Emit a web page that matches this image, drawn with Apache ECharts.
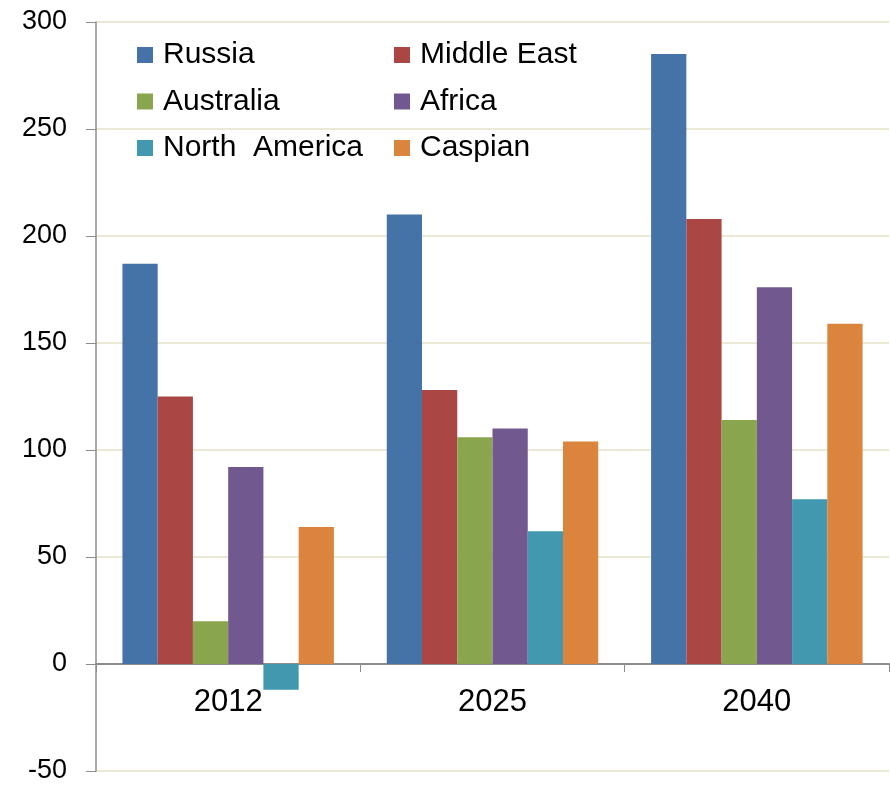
<!DOCTYPE html>
<html>
<head>
<meta charset="utf-8">
<script src="https://cdn.jsdelivr.net/npm/echarts@6/dist/echarts.min.js"></script>
<style>
html,body{margin:0;padding:0;background:#fff;}
#chart{width:890px;height:785px;}
</style>
</head>
<body>
<div id="chart"></div>
<script>
const years = ['2012', '2025', '2040'];
const russia = [187, 210, 285];
const middleEast = [125, 128, 208];
const australia = [20, 106, 114];
const africa = [92, 110, 176];
const northAmerica = [-12, 62, 77];
const caspian = [64, 104, 159];

const names = ['Russia', 'Middle East', 'Australia', 'Africa', 'North  America', 'Caspian'];
const values = [russia, middleEast, australia, africa, northAmerica, caspian];
const colors = ['#4572A7', '#AA4643', '#89A54E', '#71588F', '#4198AF', '#DB843D'];

const font = 'Liberation Sans, Arial, sans-serif';
const chart = echarts.init(document.getElementById('chart'));

const legendText = { fontFamily: font, fontSize: 30, color: '#000', lineHeight: 30, padding: [0, 0, 0, 5] };
const legendBase = {
  orient: 'vertical', top: 40, padding: 0, itemWidth: 16, itemHeight: 16, itemGap: 16.5,
  icon: 'rect', textStyle: legendText, selectedMode: false
};

chart.setOption({
  animation: false,
  color: colors,
  legend: [
    Object.assign({}, legendBase, { left: 137, data: [names[0], names[2], names[4]] }),
    Object.assign({}, legendBase, { left: 394, data: [names[1], names[3], names[5]] })
  ],
  grid: { left: 96, right: 1, top: 22, bottom: 14, containLabel: false, outerBoundsMode: 'none' },
  xAxis: {
    type: 'category',
    data: years,
    axisLine: { show: true, onZero: true, lineStyle: { color: '#8c8c8c', width: 2 } },
    axisTick: { show: true, length: 8, lineStyle: { color: '#8c8c8c' } },
    axisLabel: { fontFamily: font, fontSize: 31, color: '#000', margin: -84 },
    splitLine: { show: false }
  },
  yAxis: {
    type: 'value',
    min: -50, max: 300, interval: 50,
    axisLine: { show: true, lineStyle: { color: '#8c8c8c', width: 1.5 } },
    axisTick: { show: true, length: 10, lineStyle: { color: '#8c8c8c' } },
    axisLabel: { fontFamily: font, fontSize: 27, color: '#000', margin: 29 },
    splitLine: { show: true, lineStyle: { color: '#e4e0c8', width: 1.5 } }
  },
  series: names.map((n, i) => ({
    name: n,
    type: 'bar',
    data: values[i],
    barGap: '0%',
    barCategoryGap: '20%',
    itemStyle: { color: colors[i] }
  }))
});
</script>
</body>
</html>
